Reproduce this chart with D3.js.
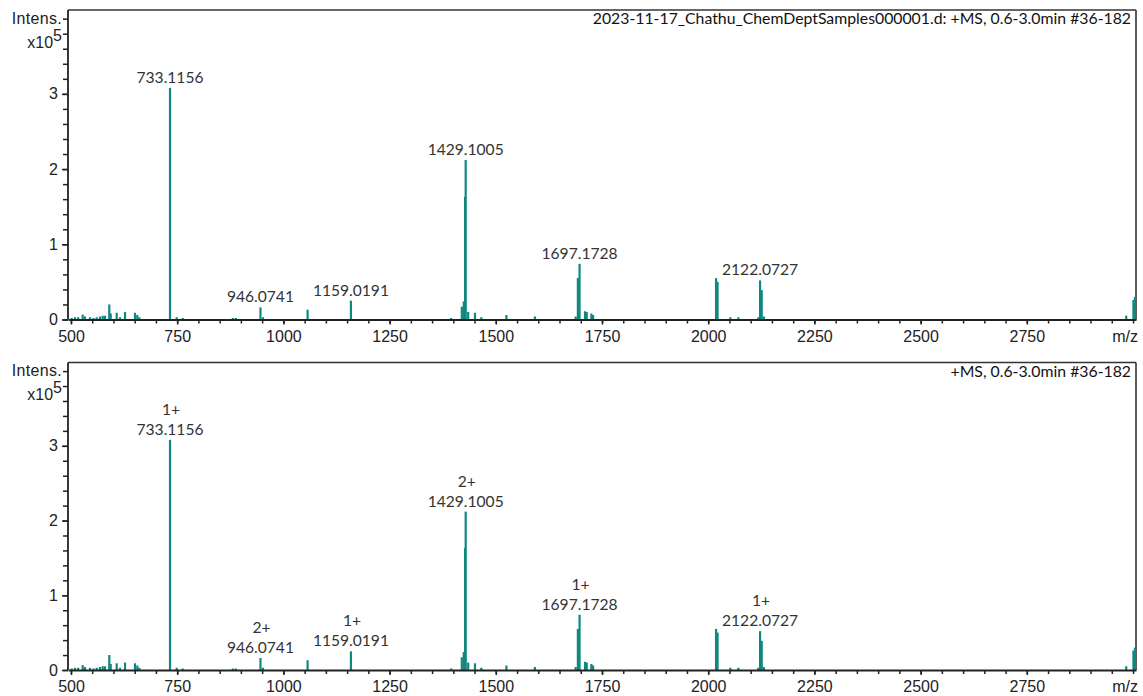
<!DOCTYPE html>
<html>
<head>
<meta charset="utf-8">
<script src="https://cdn.jsdelivr.net/npm/d3@7"></script>
<style>
  body { margin: 0; background: #fff; }
  svg { display: block; }
</style>
</head>
<body>
<svg id="chart" width="1143" height="696"></svg>
<script>
// Centroided spectrum: m/z and intensity (x10^5 counts)
const peakMz = [
  501.7, 509.5, 517, 527.6, 533, 544.8, 553, 560.6, 568.3, 574.7, 580,
  590.2, 593.5, 607.6, 615.4, 627.2, 650.7, 656.1, 660.8,
  733.1156, 748.9, 763,
  881, 888, 946.0741, 952, 1057, 1159.0191,
  1395, 1420, 1424.6, 1427.8, 1429.1005, 1435, 1451, 1466, 1525, 1592,
  1688, 1693.2, 1697.1728, 1710, 1714, 1725, 1729,
  2018.5, 2022, 2052, 2071, 2118, 2122.0727, 2126, 2131,
  2984, 3001, 3004.5
];
const peakIntensity = [
  0.02, 0.03, 0.03, 0.065, 0.04, 0.03, 0.02, 0.03, 0.04, 0.05, 0.05,
  0.20, 0.08, 0.09, 0.03, 0.10, 0.09, 0.06, 0.03,
  3.08, 0.03, 0.02,
  0.02, 0.02, 0.16, 0.03, 0.13, 0.25,
  0.02, 0.17, 0.24, 1.63, 2.12, 0.10, 0.09, 0.03, 0.06, 0.04,
  0.04, 0.55, 0.74, 0.11, 0.10, 0.08, 0.06,
  0.55, 0.50, 0.03, 0.03, 0.03, 0.52, 0.39, 0.04,
  0.05, 0.26, 0.30
];

// Annotated peaks
const labelMz = [733.1156, 946.0741, 1159.0191, 1429.1005, 1697.1728, 2122.0727];
const labelText = ["733.1156", "946.0741", "1159.0191", "1429.1005", "1697.1728", "2122.0727"];
const labelIntensity = [3.08, 0.16, 0.25, 2.12, 0.74, 0.52];
const chargeText = ["1+", "2+", "1+", "2+", "1+", "1+"];

// Axis ticks
const xMajorTicks = [500, 750, 1000, 1250, 1500, 1750, 2000, 2250, 2500, 2750];
const xMinorTicks = d3.range(500, 3001, 50);
const yMajorTicks = [0, 1, 2, 3];
const yMinorTicks = d3.range(0, 4.01, 0.2);

const panelTitles = [
  "2023-11-17_Chathu_ChemDeptSamples000001.d: +MS, 0.6-3.0min #36-182",
  "+MS, 0.6-3.0min #36-182"
];

const peakColor = "#0f8880";
const inkColor = "#222";
const tickFont = "'Liberation Sans', Arial, sans-serif";
const labelFont = "Lato, 'Open Sans', sans-serif";

const svg = d3.select("#chart");
const x = d3.scaleLinear().domain([493, 3007]).range([68, 1136]);

const panels = [
  { top: 10, zero: 319.5, title: panelTitles[0], charges: false },
  { top: 362.5, zero: 670, title: panelTitles[1], charges: true }
];

panels.forEach(p => {
  const y = d3.scaleLinear().domain([0, 4.115]).range([p.zero, p.top]);
  const g = svg.append("g");

  // frame: top and right borders
  g.append("line")
    .attr("x1", x.range()[0]).attr("x2", x.range()[1])
    .attr("y1", p.top).attr("y2", p.top)
    .attr("stroke", "#333").attr("stroke-width", 1.6);
  g.append("line")
    .attr("x1", x.range()[1]).attr("x2", x.range()[1])
    .attr("y1", p.top).attr("y2", p.zero)
    .attr("stroke", "#333").attr("stroke-width", 1.6);

  // spectrum sticks
  g.append("g").selectAll("line")
    .data(d3.zip(peakMz, peakIntensity))
    .join("line")
    .attr("x1", d => x(d[0])).attr("x2", d => x(d[0]))
    .attr("y1", y(0)).attr("y2", d => y(d[1]))
    .attr("stroke", peakColor).attr("stroke-width", 2.2);

  // x axis: minor ticks then labelled major ticks
  g.append("g")
    .attr("transform", `translate(0,${p.zero})`)
    .call(d3.axisBottom(x).tickValues(xMinorTicks).tickSize(4).tickSizeOuter(0).tickFormat(""))
    .call(a => a.select(".domain").remove())
    .call(a => a.selectAll("line").attr("stroke", inkColor).attr("stroke-width", 1.5));
  g.append("g")
    .attr("transform", `translate(0,${p.zero})`)
    .call(d3.axisBottom(x).tickValues(xMajorTicks).tickSize(5).tickSizeOuter(0).tickPadding(6).tickFormat(d3.format("d")))
    .call(a => a.select(".domain").attr("stroke", inkColor).attr("stroke-width", 1.8))
    .call(a => a.selectAll("line").attr("stroke", inkColor).attr("stroke-width", 1.5))
    .call(a => a.selectAll("text").attr("font-family", tickFont).attr("font-size", 16).attr("fill", inkColor));
  g.append("text")
    .attr("x", 1138).attr("y", p.zero + 22)
    .attr("text-anchor", "end")
    .attr("font-family", tickFont).attr("font-size", 16).attr("fill", inkColor)
    .text("m/z");

  // y axis
  g.append("g")
    .attr("transform", `translate(${x.range()[0]},0)`)
    .call(d3.axisLeft(y).tickValues(yMinorTicks).tickSize(5).tickSizeOuter(0).tickFormat(""))
    .call(a => a.select(".domain").attr("stroke", inkColor).attr("stroke-width", 1.8)
      .attr("d", `M0,${p.zero}V${p.top}`))
    .call(a => a.selectAll("line").attr("stroke", inkColor).attr("stroke-width", 1.5));
  g.append("g")
    .attr("transform", `translate(${x.range()[0]},0)`)
    .call(d3.axisLeft(y).tickValues(yMajorTicks).tickSize(6).tickPadding(4).tickFormat(d3.format("d")))
    .call(a => a.select(".domain").remove())
    .call(a => a.selectAll("line").attr("stroke", inkColor).attr("stroke-width", 1.5))
    .call(a => a.selectAll("text").attr("font-family", tickFont).attr("font-size", 16).attr("fill", inkColor));

  // unit labels
  g.append("text")
    .attr("x", 62).attr("y", y(4.0) + 5)
    .attr("text-anchor", "end")
    .attr("font-family", tickFont).attr("font-size", 16).attr("letter-spacing", 0.3).attr("fill", inkColor)
    .text("Intens.");
  const unit = g.append("text")
    .attr("x", 62).attr("y", y(3.8) + 14)
    .attr("text-anchor", "end")
    .attr("font-family", tickFont).attr("font-size", 16).attr("fill", inkColor);
  unit.append("tspan").text("x10");
  unit.append("tspan").attr("dy", -7).text("5");

  // panel title
  g.append("text")
    .attr("x", 1131).attr("y", p.top + 14)
    .attr("text-anchor", "end")
    .attr("font-family", labelFont).attr("font-size", 15.8).attr("fill", "#111")
    .text(p.title);

  // peak annotations
  const ann = g.append("g")
    .attr("font-family", labelFont).attr("font-size", 15.6).attr("fill", "#333")
    .attr("text-anchor", "middle");
  ann.selectAll("text.mz")
    .data(d3.range(labelMz.length))
    .join("text")
    .attr("class", "mz")
    .attr("x", i => x(labelMz[i]))
    .attr("y", i => y(labelIntensity[i]) - 5)
    .text(i => labelText[i]);
  if (p.charges) {
    ann.selectAll("text.z")
      .data(d3.range(labelMz.length))
      .join("text")
      .attr("class", "z")
      .attr("x", i => x(labelMz[i]) + 1)
      .attr("y", i => y(labelIntensity[i]) - 25)
      .text(i => chargeText[i]);
  }
});
</script>
</body>
</html>
